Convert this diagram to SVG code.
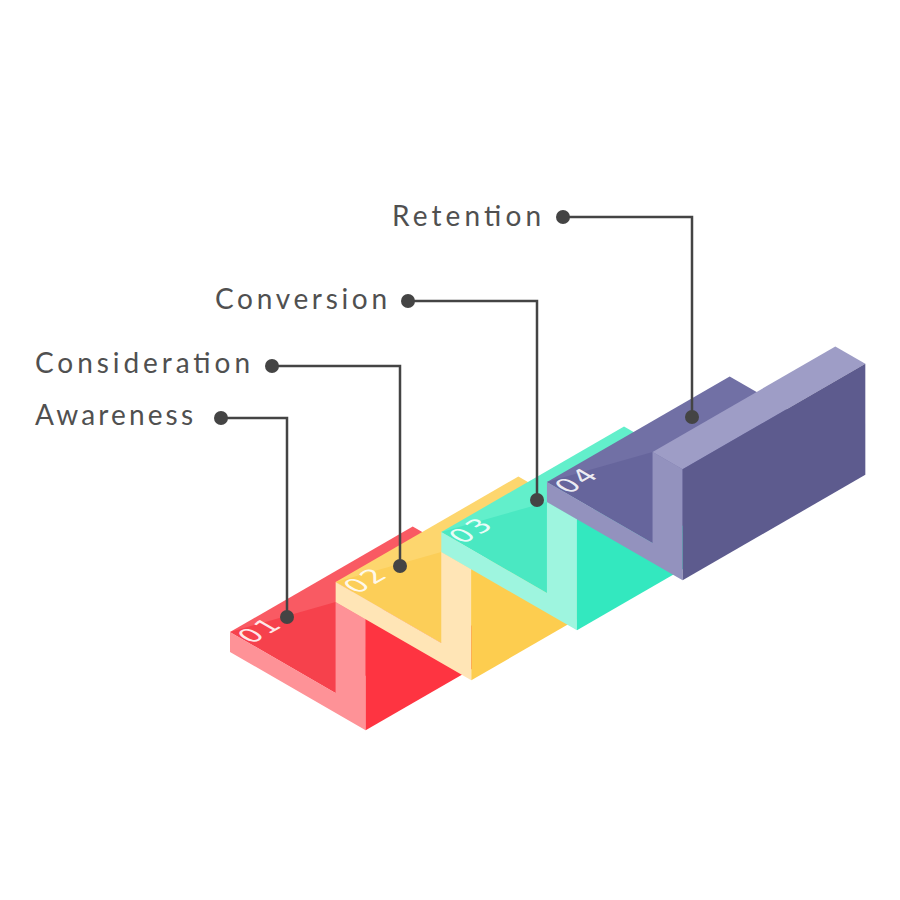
<svg xmlns="http://www.w3.org/2000/svg" width="900" height="900" viewBox="0 0 900 900">
<style>
.lbl{font-family:Lato,"Open Sans","Liberation Sans",sans-serif;font-size:28px;fill:#505050;font-weight:400}
.num{font-family:"DejaVu Sans",sans-serif;font-size:27px;fill:#ffffff;fill-opacity:0.88;letter-spacing:2px}
.ln{fill:none;stroke:#444444;stroke-width:2.5}
.dot{fill:#444444}
.r .top{fill:#f95a63}.r .sh{fill:#f6414c}.r .fr{fill:#fe9297}.r .wt{fill:#fe9297}.r .out{fill:#fe3441}
.y .top{fill:#fdd66e}.y .sh{fill:#fcce58}.y .fr{fill:#ffe5b6}.y .wt{fill:#ffe5b6}.y .out{fill:#fdcd4f}
.t .top{fill:#62efcb}.t .sh{fill:#4ae8c2}.t .fr{fill:#9ef5df}.t .wt{fill:#9ef5df}.t .out{fill:#33e8bf}
.p .top{fill:#7170a5}.p .sh{fill:#66659c}.p .fr{fill:#9392be}.p .wt{fill:#9e9dc6}.p .out{fill:#5d5b8e}
</style>
<rect width="900" height="900" fill="#ffffff"/>
<g id="step1" class="r">
<polygon class="top" points="230,632 412.73,526.5 518.38,587.5 335.65,693"/>
<polygon class="sh" points="230,632 335.65,602 335.65,693"/>
<polygon class="fr" points="230,632 230,652 365.65,730.3 365.65,619.3 335.65,602 335.65,693"/>
<polygon class="wt" points="335.65,602 518.38,496.5 548.38,513.8 365.65,619.3"/>
<polygon class="out" points="365.65,619.3 548.38,513.8 548.38,624.8 365.65,730.3"/>
<text class="num" transform="matrix(0.866 -0.5 0.866 0.5 251.5 644.5)">01</text>
</g>
<g id="step2" class="y">
<polygon class="top" points="335.65,582 518.38,476.5 624.03,537.5 441.3,643"/>
<polygon class="sh" points="335.65,582 441.3,552 441.3,643"/>
<polygon class="fr" points="335.65,582 335.65,602 471.3,680.3 471.3,569.3 441.3,552 441.3,643"/>
<polygon class="wt" points="441.3,552 624.03,446.5 654.03,463.8 471.3,569.3"/>
<polygon class="out" points="471.3,569.3 654.03,463.8 654.03,574.8 471.3,680.3"/>
<text class="num" transform="matrix(0.866 -0.5 0.866 0.5 357.2 594.5)">02</text>
</g>
<g id="step3" class="t">
<polygon class="top" points="441.3,532 624.03,426.5 729.68,487.5 546.95,593"/>
<polygon class="sh" points="441.3,532 546.95,502 546.95,593"/>
<polygon class="fr" points="441.3,532 441.3,552 576.95,630.3 576.95,519.3 546.95,502 546.95,593"/>
<polygon class="wt" points="546.95,502 729.68,396.5 759.68,413.8 576.95,519.3"/>
<polygon class="out" points="576.95,519.3 759.68,413.8 759.68,524.8 576.95,630.3"/>
<text class="num" transform="matrix(0.866 -0.5 0.866 0.5 462.8 544.5)">03</text>
</g>
<g id="step4" class="p">
<polygon class="top" points="546.95,482 729.68,376.5 835.33,437.5 652.6,543"/>
<polygon class="sh" points="546.95,482 652.6,452 652.6,543"/>
<polygon class="fr" points="546.95,482 546.95,502 682.6,580.3 682.6,469.3 652.6,452 652.6,543"/>
<polygon class="wt" points="652.6,452 835.33,346.5 865.33,363.8 682.6,469.3"/>
<polygon class="out" points="682.6,469.3 865.33,363.8 865.33,474.8 682.6,580.3"/>
<text class="num" transform="matrix(0.866 -0.5 0.866 0.5 568.5 494.5)">04</text>
</g>
<g id="connectors">
<polyline class="ln" points="221,418 287,418 287,617"/>
<polyline class="ln" points="272,366 400,366 400,566"/>
<polyline class="ln" points="408,301 537,301 537,500"/>
<polyline class="ln" points="563,217 692,217 692,417"/>
<circle class="dot" cx="221" cy="418" r="7"/><circle class="dot" cx="287" cy="617" r="7"/>
<circle class="dot" cx="272" cy="366" r="7"/><circle class="dot" cx="400" cy="566" r="7"/>
<circle class="dot" cx="408" cy="301" r="7"/><circle class="dot" cx="537" cy="500" r="7"/>
<circle class="dot" cx="563" cy="217" r="7"/><circle class="dot" cx="692" cy="417" r="7"/>
</g>
<g id="labels">
<text id="lbl-awareness" class="lbl" x="35" y="425" textLength="158" lengthAdjust="spacing">Awareness</text>
<text id="lbl-consideration" class="lbl" x="35" y="373" textLength="215" lengthAdjust="spacing">Consideration</text>
<text id="lbl-conversion" class="lbl" x="215" y="309" textLength="172" lengthAdjust="spacing">Conversion</text>
<text id="lbl-retention" class="lbl" x="392" y="226" textLength="149" lengthAdjust="spacing">Retention</text>
</g>
</svg>
